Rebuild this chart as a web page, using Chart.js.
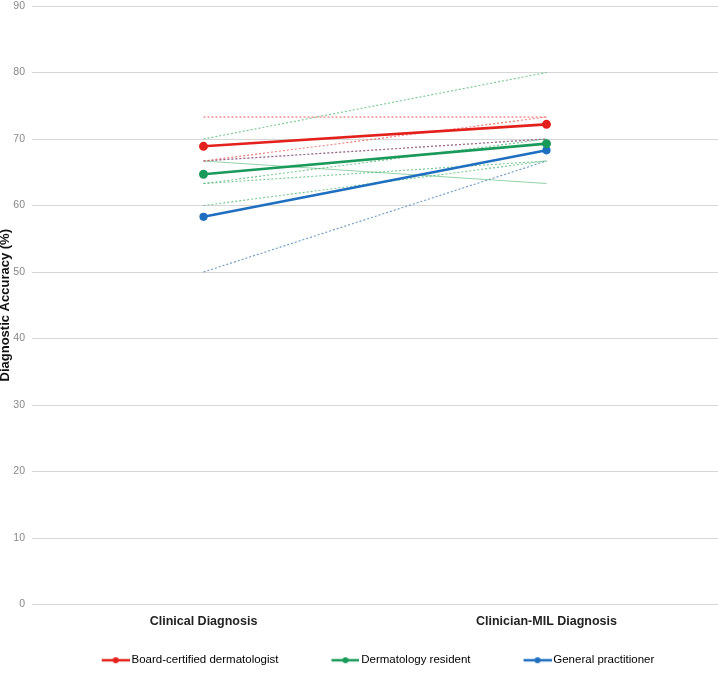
<!DOCTYPE html>
<html><head><meta charset="utf-8">
<script src="https://cdn.jsdelivr.net/npm/chart.js@4.4.0/dist/chart.umd.min.js"></script>
<style>html,body{margin:0;padding:0;background:#fff}#wrap{width:718px;height:684px}</style>
</head><body><div id="wrap"><canvas id="c"></canvas></div>
<script>
const categories = ["Clinical Diagnosis", "Clinician-MIL Diagnosis"];
const yTicks = [0,10,20,30,40,50,60,70,80,90];
// group means
const boardMean = [68.9, 72.2];
const residentMean = [64.7, 69.3];
const gpMean = [58.3, 68.3];
// individual readers
const board1 = [73.3, 73.3];
const board2 = [66.7, 73.3];
const board3 = [66.7, 70.0];
const resident1 = [70.0, 80.0];
const resident2 = [66.7, 63.3];
const resident3 = [63.3, 70.0];
const resident4 = [63.3, 66.7];
const resident5 = [60.0, 66.7];
const gp1 = [66.7, 70.0];
const gp2 = [50.0, 66.7];

const RED = '#e3201b', GREEN = '#1a9a5a', BLUE = '#1f6fc1';
function indiv(data, color, dash){
  return {data, borderColor: color, borderWidth: 1.1, borderDash: dash===undefined?[2,2]:dash,
    pointRadius: 0, pointHoverRadius:0, fill:false, showInLegend:false, order: 2};
}
function mean(label, data, color, r){
  return {label, data, borderColor: color, backgroundColor: color, borderWidth: 2.6,
    pointRadius: r, pointBackgroundColor: color, pointBorderColor: color, fill:false, showInLegend:true, order: 1};
}
const MW = 62;
function marker(color){
  const W = MW + 8;
  const cv = document.createElement('canvas'); cv.width = W; cv.height = 10;
  const g = cv.getContext('2d');
  g.strokeStyle = color; g.lineWidth = 2.5; g.beginPath(); g.moveTo(W - 28,5); g.lineTo(W,5); g.stroke();
  g.fillStyle = color; g.beginPath(); g.arc(W - 14,5,3,0,Math.PI*2); g.fill();
  return cv;
}
const datasets = [
  indiv(board1, 'rgba(240,70,70,0.8)'),
  indiv(board2, 'rgba(235,80,75,0.75)'),
  indiv(board3, 'rgba(235,80,75,0.5)'),
  indiv(resident1, 'rgba(60,175,100,0.7)'),
  indiv(resident2, 'rgba(60,175,100,0.55)', []),
  indiv(resident3, 'rgba(60,175,100,0.7)'),
  indiv(resident4, 'rgba(60,175,100,0.7)'),
  indiv(resident5, 'rgba(60,175,100,0.7)'),
  indiv(gp1, 'rgba(50,90,170,0.8)'),
  indiv(gp2, 'rgba(40,110,170,0.7)'),
  mean('Board-certified dermatologist', boardMean, RED, 3.2),
  mean('Dermatology resident', residentMean, GREEN, 3.2),
  mean('General practitioner', gpMean, BLUE, 2.8),
];
const markers = {};
markers[RED] = marker(RED); markers[GREEN] = marker(GREEN); markers[BLUE] = marker(BLUE);

new Chart(document.getElementById('c'), {
  type: 'line',
  data: { labels: categories, datasets },
  options: {
    responsive: true, maintainAspectRatio: false, animation: false,
    layout: { autoPadding: false, padding: { top: 6, right: 0, left: 0, bottom: 8 } },
    plugins: {
      tooltip: { enabled: false },
      legend: {
        position: 'bottom',
        labels: {
          usePointStyle: true, pointStyleWidth: MW, padding: 15, color: '#222',
          font: { family: 'Liberation Sans', size: 11.5 },
          filter: (item, data) => data.datasets[item.datasetIndex].showInLegend,
          generateLabels: (chart) => chart.data.datasets.map((d, i) => ({
            text: d.label || '', datasetIndex: i, pointStyle: markers[d.borderColor] || 'line',
            strokeStyle: d.borderColor, fillStyle: d.borderColor, hidden: false, lineWidth: 0
          }))
        }
      }
    },
    scales: {
      x: {
        offset: true,
        afterFit: (s) => { s.height = 35; s.paddingLeft = 0; s.paddingRight = 0; },
        grid: { display: false, drawTicks: false },
        border: { display: false },
        ticks: { color: '#222', font: { family: 'Liberation Sans', size: 12.5, weight: 'bold' }, padding: 10 }
      },
      y: {
        min: 0, max: 90,
        afterBuildTicks: (s) => { s.ticks = yTicks.map(v => ({ value: v })); },
        afterFit: (s) => { s.width = 32; s.paddingTop = 0; s.paddingBottom = 0; },
        grid: { color: '#d6d6d6', lineWidth: 1, drawTicks: false },
        border: { display: false },
        ticks: { color: '#888', font: { family: 'Liberation Sans', size: 10.5 }, padding: 7 },
        title: { display: true, text: 'Diagnostic Accuracy (%)', color: '#111',
          font: { family: 'Liberation Sans', size: 13, weight: 'bold' }, padding: { top: -2, bottom: 0 } }
      }
    }
  }
});
</script></body></html>
